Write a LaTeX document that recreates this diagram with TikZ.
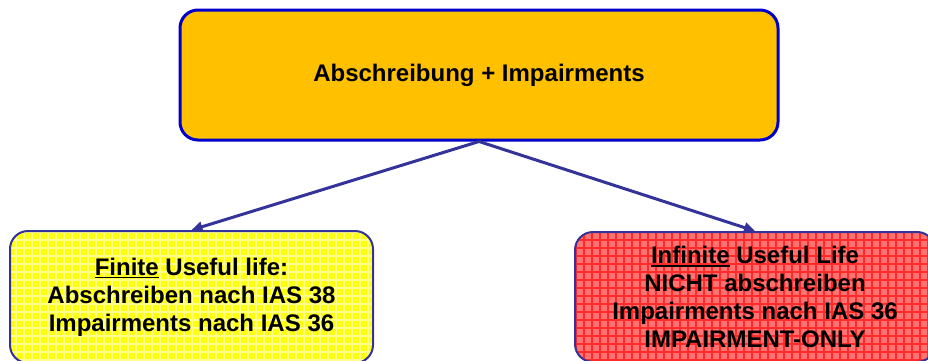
\documentclass[tikz,border=0pt]{standalone}
\usepackage{fontspec}
\setmainfont{Liberation Sans}
\usetikzlibrary{patterns.meta,arrows.meta}
\definecolor{topfill}{HTML}{FFC000}
\definecolor{topborder}{HTML}{0000CC}
\definecolor{boxborder}{HTML}{333399}
\definecolor{yelbase}{HTML}{FFFF10}
\definecolor{yelline}{HTML}{FFFF90}
\definecolor{redbase}{HTML}{FF7272}
\definecolor{redline}{HTML}{FF2A2A}
\newcommand\myul[1]{\setbox0\hbox{#1}\rlap{\rule[-3.2pt]{\wd0}{1.8pt}}\box0\relax}
\tikzset{
  lbl/.style={font=\bfseries\fontsize{24}{28}\selectfont, align=center, text=black},
  topbox/.style={lbl, draw=topborder, line width=3pt, fill=topfill, rounded corners=18pt,
    minimum width=598pt, minimum height=130pt, inner sep=0pt},
  lowbox/.style={lbl, draw=boxborder, line width=2pt, rounded corners=18pt, inner sep=0pt},
  gridfill/.style 2 args={preaction={fill=#1},
                   preaction={pattern={Lines[distance=8pt,angle=0,line width=1.4pt]}, pattern color=#2},
                   preaction={pattern={Lines[distance=8pt,angle=90,line width=1.4pt]}, pattern color=#2}},
  conn/.style={draw=boxborder, line width=3pt, -{Triangle[length=11pt,width=10pt]}}
}
\begin{document}
\begin{tikzpicture}[x=1pt,y=1pt]
\useasboundingbox (0,0) rectangle (928,360);
\clip (0,0) rectangle (928,360);
\node[topbox] (top) at (479,285) {Abschreibung + Impairments};
\node[lowbox, gridfill={yelbase}{yelline}, minimum width=363pt, minimum height=132pt] (fin) at (191.5,63)
  {\myul{Finite} Useful life:\\Abschreiben nach IAS 38\\Impairments nach IAS 36};
\node[lowbox, gridfill={redbase}{redline}, minimum width=360pt, minimum height=130pt] (inf) at (755,63)
  {\myul{Infinite} Useful Life\\NICHT abschreiben\\Impairments nach IAS 36\\IMPAIRMENT-ONLY};
\draw[conn] (top.south) -- (fin.north);
\draw[conn] (top.south) -- (inf.north);
\end{tikzpicture}
\end{document}
